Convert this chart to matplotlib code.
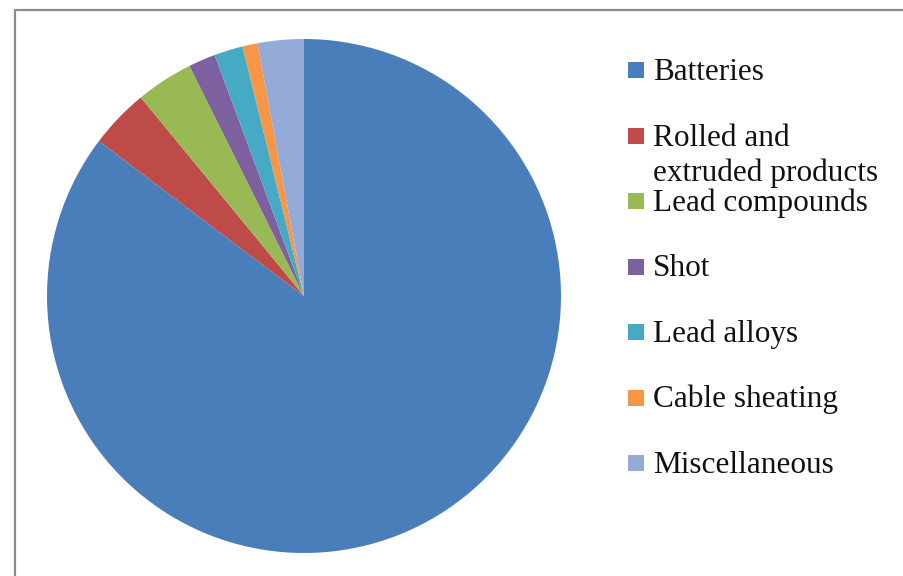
import matplotlib
matplotlib.use('Agg')
import matplotlib.pyplot as plt
from matplotlib.patches import Rectangle

# lead end uses
labels = ['Batteries', 'Rolled and\nextruded products', 'Lead compounds', 'Shot',
          'Lead alloys', 'Cable sheating', 'Miscellaneous']
shares = [85.3, 3.75, 3.6, 1.7, 1.8, 0.95, 2.9]
colors = ['#4A7EBB', '#BE4B48', '#98B954', '#7D60A0', '#46AAC5', '#F79646', '#94ABD8']

W, H = 904, 576
fig = plt.figure(figsize=(W / 100, H / 100), dpi=100)

# overlay in pixel coordinates for frame and legend
ov = fig.add_axes([0, 0, 1, 1])
ov.set_xlim(0, W)
ov.set_ylim(H, 0)
ov.axis('off')
ov.plot([15, 15, W + 5], [H + 5, 10, 10], color='#8a8a8a', lw=1.6)

# pie
ax = fig.add_axes([47 / W, (H - 553) / H, 514 / W, 514 / H])
ax.pie(shares, colors=colors, startangle=90, counterclock=False, radius=1.0,
       wedgeprops=dict(linewidth=0))
ax.set_xlim(-1, 1)
ax.set_ylim(-1, 1)
ax.set_aspect('auto')
ax.axis('off')

# legend, drawn by hand so the square sits on the first line
y0, step, lead = 80, 65.5, 35
for i, (lab, c) in enumerate(zip(labels, colors)):
    yb = y0 + step * i
    ov.add_patch(Rectangle((628, yb - 18), 16, 16, facecolor=c, edgecolor='none'))
    for j, line in enumerate(lab.split('\n')):
        ov.text(653, yb + lead * j, line, fontsize=22.5, family='Liberation Serif',
                color='#111111', va='baseline', ha='left')

fig.savefig('out.png', dpi=100)
